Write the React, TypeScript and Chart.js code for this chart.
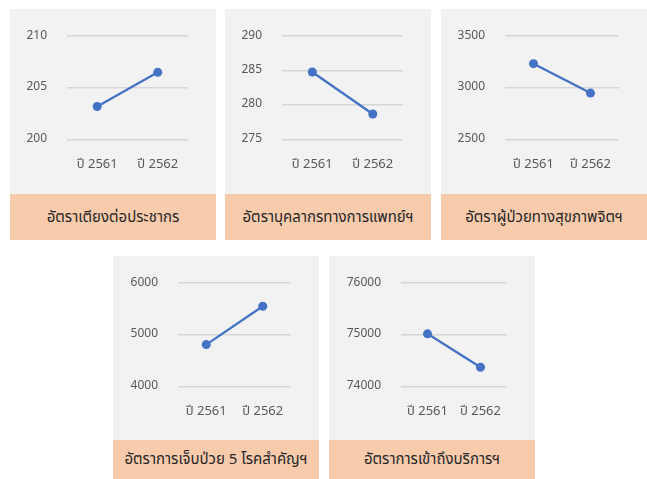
import React, { useEffect, useRef } from 'react';
import { Chart, registerables } from 'chart.js';
Chart.register(...registerables);

// ---- data ----
const categories = ['ปี 2561', 'ปี 2562'];
const titles = [
  'อัตราเตียงต่อประชากร',
  'อัตราบุคลากรทางการแพทย์ฯ',
  'อัตราผู้ป่วยทางสุขภาพจิตฯ',
  'อัตราการเจ็บป่วย 5 โรคสำคัญฯ',
  'อัตราการเข้าถึงบริการฯ',
];
const bedRate = [203.2, 206.5];
const personnelRate = [284.8, 278.7];
const mentalRate = [3234, 2949];
const fiveDiseaseRate = [4812, 5553];
const accessRate = [75020, 74373];
const yMins = [200, 275, 2500, 4000, 74000];
const yMaxs = [210, 290, 3500, 6000, 76000];
const ySteps = [5, 5, 500, 1000, 1000];
const seriesList = [bedRate, personnelRate, mentalRate, fiveDiseaseRate, accessRate];

// ---- layout (positions / sizes) ----
const panelLayout = [
  { x: 10, y: 9, grayH: 185, titleH: 46, plotLeft: 57 },
  { x: 225, y: 9, grayH: 185, titleH: 46, plotLeft: 57 },
  { x: 441, y: 9, grayH: 185, titleH: 46, plotLeft: 64 },
  { x: 113, y: 256, grayH: 184, titleH: 39, plotLeft: 65 },
  { x: 329, y: 256, grayH: 184, titleH: 39, plotLeft: 72 },
];
const PANEL_W = 206;
const FONT = '"Noto Sans Thai", "Noto Sans", "DejaVu Sans", sans-serif';

function Panel({ idx }: { idx: number }) {
  const ref = useRef<HTMLCanvasElement>(null);
  const L = panelLayout[idx];
  useEffect(() => {
    if (!ref.current) return;
    const chart = new Chart(ref.current, {
      type: 'line',
      data: {
        labels: categories,
        datasets: [
          {
            data: seriesList[idx],
            borderColor: '#4472c4',
            backgroundColor: '#4472c4',
            borderWidth: 2.25,
            pointRadius: 4.5,
            pointBorderWidth: 0,
            pointBackgroundColor: '#4472c4',
            tension: 0,
          },
        ],
      },
      options: {
        responsive: false,
        animation: false,
        layout: { padding: { left: 0, right: PANEL_W - 178, top: 27, bottom: 0 } },
        plugins: { legend: { display: false }, tooltip: { enabled: false } },
        scales: {
          x: {
            type: 'category',
            offset: true,
            grid: { display: false, drawTicks: false },
            border: { display: false },
            ticks: { color: '#595959', font: { family: FONT, size: 13 }, padding: 18, maxRotation: 0 },
            afterFit: (s: any) => { s.height = L.grayH - 27 - 103.5; },
          },
          y: {
            min: yMins[idx],
            max: yMaxs[idx],
            grid: { color: '#d6d6d6', lineWidth: 1.5, drawTicks: false },
            border: { display: false },
            ticks: {
              stepSize: ySteps[idx],
              color: '#595959',
              font: { family: FONT, size: 12 },
              padding: 20,
              callback: (v: any) => String(v),
            },
            afterFit: (s: any) => { s.width = L.plotLeft; },
          },
        },
      },
    });
    return () => chart.destroy();
  }, [idx]);
  return (
    <div style={{ position: 'absolute', left: L.x, top: L.y, width: PANEL_W }}>
      <div style={{ background: '#f2f2f2', width: PANEL_W, height: L.grayH }}>
        <canvas ref={ref} width={PANEL_W} height={L.grayH} style={{ display: 'block', width: PANEL_W, height: L.grayH }} />
      </div>
      <div
        style={{
          background: '#f8cbad',
          width: PANEL_W,
          height: L.titleH,
          display: 'flex',
          alignItems: 'center',
          justifyContent: 'center',
          fontFamily: FONT,
          fontSize: 15,
          color: '#262626',
          whiteSpace: 'nowrap',
        }}
      >
        {titles[idx]}
      </div>
    </div>
  );
}

export default function App() {
  return (
    <div style={{ position: 'absolute', left: 0, top: 0, width: 647, height: 479, background: '#ffffff' }}>
      {[0, 1, 2, 3, 4].map((i) => (
        <Panel key={i} idx={i} />
      ))}
    </div>
  );
}
